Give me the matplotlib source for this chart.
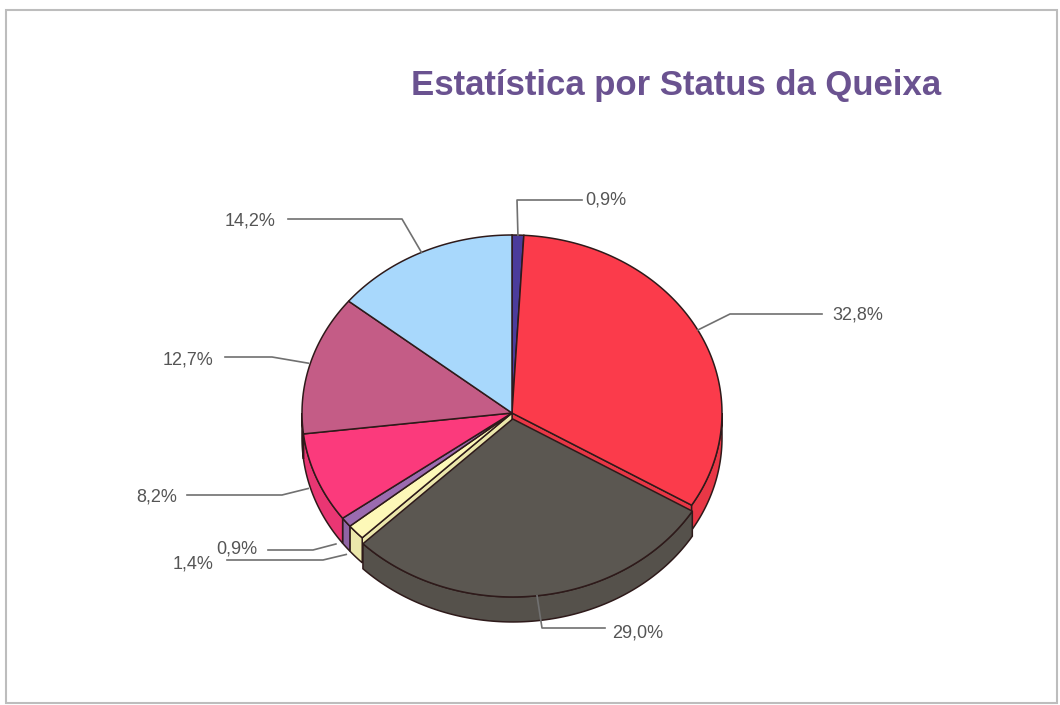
#!/usr/bin/env python3
"""
Estatística por Status da Queixa - pizza 3D
"""

import numpy as np
import matplotlib
matplotlib.use('Agg')
import matplotlib.pyplot as plt
from matplotlib.patches import Polygon, Rectangle

# Dados (sentido horário a partir do topo)
valores = [0.9, 32.8, 29.0, 1.4, 0.9, 8.2, 12.7, 14.2]
rotulos = ['0,9%', '32,8%', '29,0%', '1,4%', '0,9%', '8,2%', '12,7%', '14,2%']
cores = ['#4b3c9c', '#fb3b4b', '#5b5751', '#fdf8b8', '#9b6bb0', '#fb3a7c', '#c45c86', '#a8d8fc']
titulo = 'Estatística por Status da Queixa'

# Geometria em pixels
CX, CY = 512, 413
RX, RY = 210, 178
PROF = 25
EXPLODE = [0, 0, 6, 0, 0, 0, 0, 0]
BORDA = '#2e1a1a'

# Linhas de chamada: (folga, fração da altura, cotovelo x, cotovelo y, fim x, texto x, texto y, alinhamento)
LIDERES = [
    (0, 0.0, 517, 200, 582, 585, 200, 'left'),
    (0, 0.0, 730, 314, 822, 832, 315, 'left'),
    (0, 0.0, 542, 628, 605, 612, 633, 'left'),
    (13, 0.6, 323, 560, 227, 214, 564, 'right'),
    (13, 0.6, 313, 550, 268, 257, 549, 'right'),
    (9, 0.3, 282, 495, 187, 177, 497, 'right'),
    (2, 0.0, 272, 357, 225, 213, 360, 'right'),
    (0, 0.0, 402, 219, 288, 275, 221, 'right'),
]


def escurecer(cor, f=0.93):
    r, g, b = matplotlib.colors.to_rgb(cor)
    return (r * f, g * f, b * f)


def ponto(ang, ox, oy, dz=0.0, r=1.0):
    a = np.radians(ang)
    return (CX + ox + r * RX * np.cos(a), CY + oy - r * RY * np.sin(a) + dz)


def arco(a0, a1, ox, oy, dz=0.0):
    n = max(int(abs(a0 - a1)) + 2, 3)
    angs = np.linspace(a0, a1, n)
    return [ponto(a, ox, oy, dz) for a in angs]


def desenhar_fatia_topo(ax, a0, a1, ox, oy, cor, z):
    pts = [(CX + ox, CY + oy)] + arco(a0, a1, ox, oy)
    ax.add_patch(Polygon(pts, closed=True, facecolor=cor, edgecolor=BORDA, lw=1.1, zorder=z + 1))


def desenhar_parede(ax, a0, a1, ox, oy, cor, z):
    # parte frontal do arco: entre -180 e 0 graus
    lo = max(a1, -180.0)
    hi = min(a0, 0.0)
    if hi <= lo:
        return
    topo = arco(hi, lo, ox, oy)
    base = arco(lo, hi, ox, oy, PROF)
    ax.add_patch(Polygon(topo + base, closed=True, facecolor=escurecer(cor),
                         edgecolor=BORDA, lw=1.1, zorder=z))


def desenhar_radial(ax, ang, ox, oy, cor):
    c = (CX + ox, CY + oy)
    pts = [c, ponto(ang, ox, oy), ponto(ang, ox, oy, PROF), (c[0], c[1] + PROF)]
    ax.add_patch(Polygon(pts, closed=True, facecolor=escurecer(cor),
                         edgecolor=BORDA, lw=1.0, zorder=1))


fig = plt.figure(figsize=(10.6, 7.05), dpi=100)
ax = fig.add_axes([0, 0, 1, 1])
ax.set_xlim(0, 1060)
ax.set_ylim(705, 0)
ax.axis('off')

total = sum(valores)
angulos = []
inicio = 90.0
for v in valores:
    fim = inicio - 360.0 * v / total
    angulos.append((inicio, fim))
    inicio = fim

n = len(valores)
desloc = []
for i, (a0, a1) in enumerate(angulos):
    meio = np.radians((a0 + a1) / 2)
    desloc.append((EXPLODE[i] * np.cos(meio), -EXPLODE[i] * np.sin(meio)))

# paredes radiais expostas ao lado das fatias destacadas
for i, (a0, a1) in enumerate(angulos):
    ox, oy = desloc[i]
    if EXPLODE[(i - 1) % n] > 0 and np.cos(np.radians(a0)) < 0:
        desenhar_radial(ax, a0, ox, oy, cores[i])
    if EXPLODE[(i + 1) % n] > 0 and np.cos(np.radians(a1)) > 0:
        desenhar_radial(ax, a1, ox, oy, cores[i])

# fatias normais primeiro, destacadas por cima
for i, (a0, a1) in enumerate(angulos):
    ox, oy = desloc[i]
    z = 2 if EXPLODE[i] == 0 else 4
    desenhar_parede(ax, a0, a1, ox, oy, cores[i], z)
    desenhar_fatia_topo(ax, a0, a1, ox, oy, cores[i], z)

# rótulos com linhas de chamada
for i, (a0, a1) in enumerate(angulos):
    folga, frac, ex, ey, fx, tx, ty, ha = LIDERES[i]
    ox, oy = desloc[i]
    meio = (a0 + a1) / 2
    sx, sy = ponto(meio, ox, oy, PROF * frac, r=1.0 + folga / RX)
    ax.plot([sx, ex, fx], [sy, ey, ey], color='#707070', lw=1.2, zorder=6)
    ax.text(tx, ty, rotulos[i], ha=ha, va='center', fontsize=13,
            color='#555555', family=['Liberation Sans', 'DejaVu Sans'], zorder=7)

# título
ax.text(676, 86, titulo, ha='center', va='center', fontsize=25, fontweight='bold',
        color='#6a5290', family=['Liberation Sans', 'DejaVu Sans'])

# moldura
ax.add_patch(Rectangle((6, 10), 1051, 693, fill=False, edgecolor='#bdbdbd', lw=1.5, zorder=0))

fig.savefig('out.png', dpi=100)
